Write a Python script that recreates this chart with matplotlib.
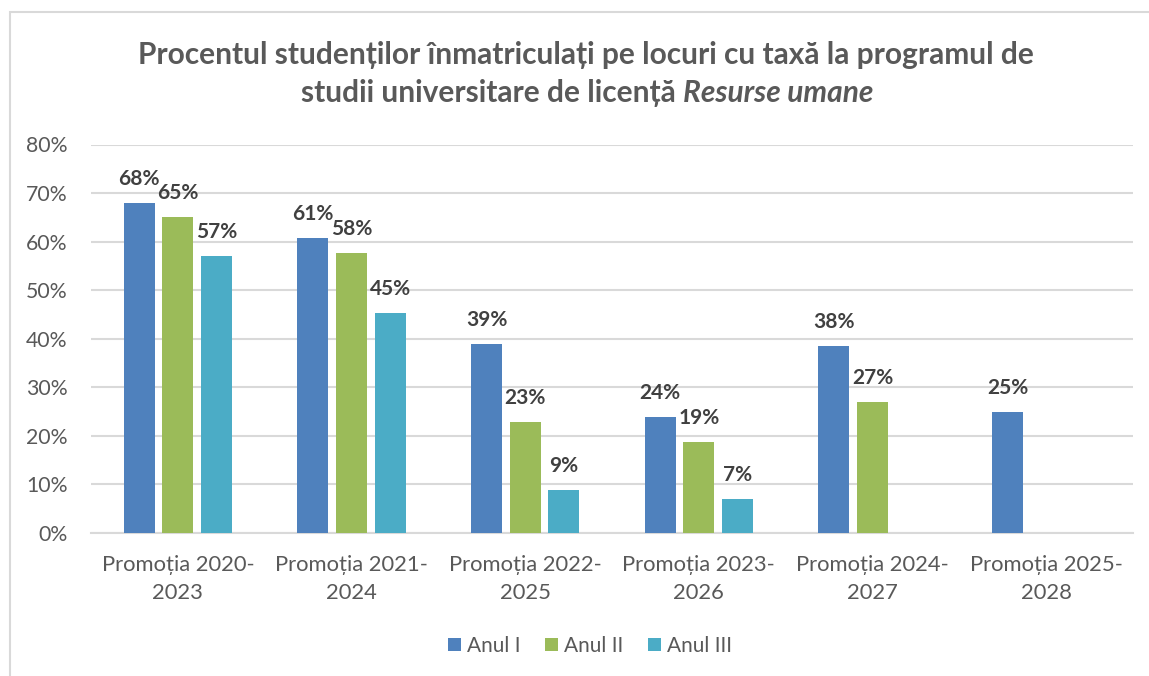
import numpy as np
import matplotlib.pyplot as plt
from matplotlib.patches import Rectangle

plt.rcParams['font.family'] = ['Lato', 'DejaVu Sans']

categories = ['Promoția 2020-\n2023', 'Promoția 2021-\n2024', 'Promoția 2022-\n2025',
              'Promoția 2023-\n2026', 'Promoția 2024-\n2027', 'Promoția 2025-\n2028']
series_names = ['Anul I', 'Anul II', 'Anul III']
anul1 = [67.9, 60.8, 38.9, 23.8, 38.4, 24.9]
anul2 = [65.1, 57.7, 22.8, 18.6, 27.0]
anul3 = [57.0, 45.2, 8.9, 6.9]
colors = ['#4F81BD', '#9BBB59', '#4BACC6']

fig = plt.figure(figsize=(11.49, 6.76), dpi=100)
# chart border (only top and left visible)
fig.patches.append(Rectangle((10/1149, -0.1), 1.2, 1-12/676+0.1, transform=fig.transFigure,
                             fill=False, edgecolor='#D9D9D9', lw=1.5))
ax = fig.add_axes([91/1149, 1-532.7/676, (1133-91)/1149, (532.7-144.5)/676])

x = np.arange(len(categories))
step = 0.222
width = 0.178
for i, (vals, c) in enumerate(zip([anul1, anul2, anul3], colors)):
    xs = x[:len(vals)] + (i-1)*step
    ax.bar(xs, np.array(vals)/100, width, color=c, label=series_names[i], zorder=3)
    for xi, v in zip(xs, vals):
        ax.annotate('%d%%' % round(v), (xi, v/100), xytext=(0, 24), textcoords='offset pixels',
                    ha='center', va='center', fontsize=15, fontweight='bold', color='#404040')

ax.set_xlim(-0.5, len(categories)-0.5)
ax.set_ylim(0, 0.8)
ax.set_yticks(np.arange(0, 0.81, 0.1))
ax.set_yticklabels(['%d%%' % v for v in range(0, 81, 10)])
ax.set_xticks(x)
ax.set_xticklabels(categories, linespacing=1.5)
ax.tick_params(axis='y', length=0, pad=17, labelsize=15.3, labelcolor='#595959')
ax.tick_params(axis='x', length=0, pad=16, labelsize=15.8, labelcolor='#595959')
ax.grid(axis='y', color='#D9D9D9', lw=1.5, zorder=0)
for s in ['top', 'right', 'left']:
    ax.spines[s].set_visible(False)
ax.spines['bottom'].set_color('#D9D9D9')
ax.spines['bottom'].set_linewidth(1.5)

tsize = 21.5
fig.text(586/1149, 1-55/676, 'Procentul studenților înmatriculați pe locuri cu taxă la programul de',
         ha='center', va='center', fontsize=tsize, fontweight='bold', color='#595959')
# second title line: normal part + italic part, centred together
t1 = fig.text(0, 1-93/676, 'studii universitare de licență ', ha='left', va='center',
              fontsize=tsize, fontweight='bold', color='#595959')
t2 = fig.text(0, 1-93/676, 'Resurse umane', ha='left', va='center', fontsize=tsize,
              fontweight='bold', fontstyle='italic', color='#595959')
r = fig.canvas.get_renderer()
w1 = t1.get_window_extent(r).width
w2 = t2.get_window_extent(r).width
x0 = 587 - (w1 + w2)/2
t1.set_x(x0/1149)
t2.set_x((x0 + w1)/1149)

ax.legend(loc='center', bbox_to_anchor=(590/1149, 1-646/676), bbox_transform=fig.transFigure,
          ncol=3, frameon=False, fontsize=15, labelcolor='#595959', handlelength=0.6,
          handleheight=0.6, handletextpad=0.3, columnspacing=1.2)

fig.savefig('out.png')
